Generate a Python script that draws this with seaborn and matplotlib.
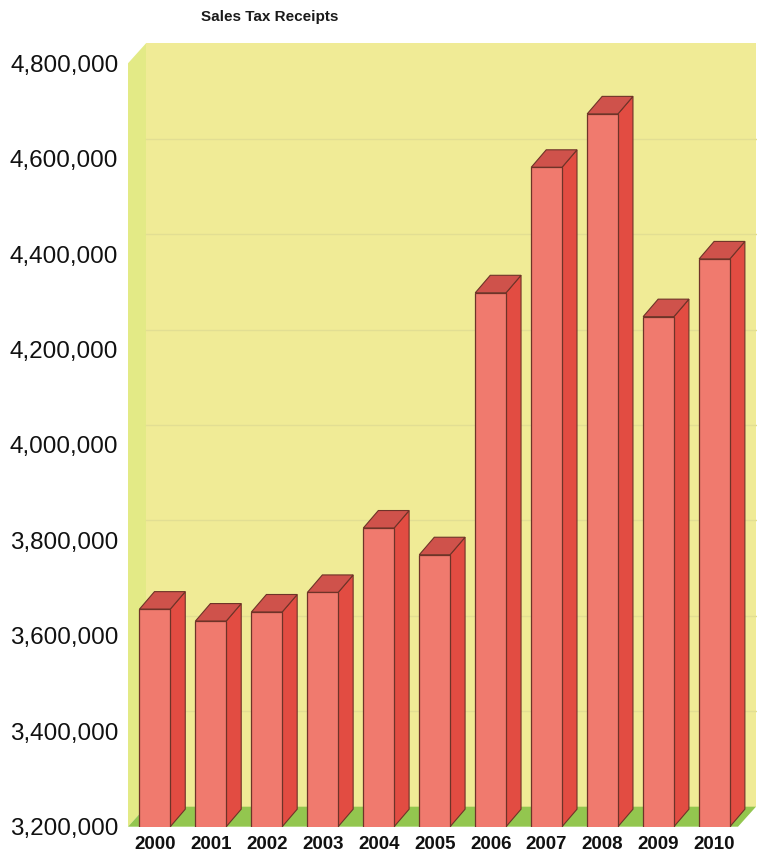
import matplotlib
matplotlib.use("Agg")
import matplotlib.pyplot as plt
import seaborn as sns
import pandas as pd
from matplotlib.patches import Polygon
from matplotlib.ticker import FuncFormatter

# ---- data ----
years = ["2000", "2001", "2002", "2003", "2004", "2005",
         "2006", "2007", "2008", "2009", "2010"]
receipts = [3656000, 3631000, 3650000, 3691000, 3826000, 3770000,
            4319000, 4582000, 4694000, 4269000, 4390000]
y_ticks = [3200000, 3400000, 3600000, 3800000, 4000000,
           4200000, 4400000, 4600000, 4800000]
title = "Sales Tax Receipts"

# ---- style ----
FRONT = "#f07a6e"
SIDE = "#e24c42"
TOP = "#cf524b"
EDGE = "#6e3328"
BACK = "#f0eb96"
LEFT = "#e3ea86"
FLOOR = "#93c64f"
GRID = "#e2de93"

plt.rcParams["font.family"] = ["Liberation Sans", "DejaVu Sans"]

W, H = 757, 857
fig = plt.figure(figsize=(W / 100, H / 100), dpi=100)
fig.patch.set_facecolor("white")
ax = fig.add_axes([128 / W, 1 - 826.7 / H, (738 - 128) / W, (826.7 - 63.3) / H])
ax.patch.set_visible(False)

df = pd.DataFrame({"year": years, "receipts": receipts})
bar_w = 0.55
sns.barplot(data=df, x="year", y="receipts", color=FRONT, saturation=1,
            width=bar_w, edgecolor=EDGE, linewidth=0.9, ax=ax, zorder=3)

xlim = (-0.48, 10.42)
ylim = (y_ticks[0], y_ticks[-1])
ax.set_xlim(*xlim)
ax.set_ylim(*ylim)

# pixel -> data conversion for the 3D depth offsets
pos = ax.get_position()
ax_w_px = pos.width * W
ax_h_px = pos.height * H
px_x = (xlim[1] - xlim[0]) / ax_w_px
px_y = (ylim[1] - ylim[0]) / ax_h_px
wdx, wdy = 18 * px_x, 20 * px_y
bdx, bdy = 15 * px_x, 17.5 * px_y

x0, x1 = xlim
y0, y1 = ylim

# walls and floor
ax.add_patch(Polygon([(x0 + wdx, y0 + wdy), (x1 + wdx, y0 + wdy),
                      (x1 + wdx, y1 + wdy), (x0 + wdx, y1 + wdy)],
                     closed=True, facecolor=BACK, edgecolor="none",
                     clip_on=False, zorder=0.1))
ax.add_patch(Polygon([(x0, y0), (x0, y1), (x0 + wdx, y1 + wdy), (x0 + wdx, y0 + wdy)],
                     closed=True, facecolor=LEFT, edgecolor="none",
                     clip_on=False, zorder=0.2))
ax.add_patch(Polygon([(x0, y0), (x1, y0), (x1 + wdx, y0 + wdy), (x0 + wdx, y0 + wdy)],
                     closed=True, facecolor=FLOOR, edgecolor="none",
                     clip_on=False, zorder=0.3))
for t in y_ticks[1:-1]:
    ax.plot([x0 + wdx, x1 + wdx], [t + wdy, t + wdy], color=GRID, lw=1.0,
            clip_on=False, zorder=0.4)

# 3D sides and tops of bars
for i, v in enumerate(receipts):
    xl, xr = i - bar_w / 2, i + bar_w / 2
    ax.add_patch(Polygon([(xr, y0), (xr, v), (xr + bdx, v + bdy), (xr + bdx, y0 + bdy)],
                         closed=True, facecolor=SIDE, edgecolor=EDGE, lw=0.8,
                         clip_on=False, zorder=2))
    ax.add_patch(Polygon([(xl, v), (xr, v), (xr + bdx, v + bdy), (xl + bdx, v + bdy)],
                         closed=True, facecolor=TOP, edgecolor=EDGE, lw=0.8,
                         clip_on=False, zorder=2.5))

for s in ax.spines.values():
    s.set_visible(False)
ax.set_yticks(y_ticks)
ax.yaxis.set_major_formatter(FuncFormatter(lambda v, p: f"{int(v):,}"))
ax.tick_params(axis="y", length=0, pad=7, labelsize=17.5, labelcolor="#111111")
ax.tick_params(axis="x", length=0, pad=7, labelsize=13.5, labelcolor="#111111")
for lab in ax.get_xticklabels():
    lab.set_fontweight("bold")
ax.set_xlabel("")
ax.set_ylabel("")

fig.text(269.5 / W, 1 - 17 / H, title, ha="center", va="center",
         fontsize=11, fontweight="bold", color="#1a1a1a",
         family=["Liberation Sans Narrow", "Liberation Sans", "DejaVu Sans"])

fig.savefig("out.png", dpi=100)
